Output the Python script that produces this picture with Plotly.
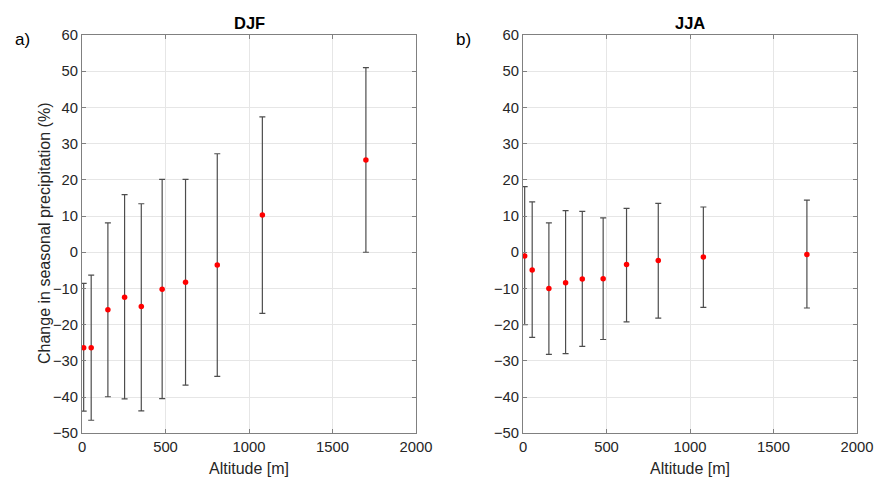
import plotly.graph_objects as go

altitude = [10, 55, 155, 255, 355, 480, 620, 810, 1080, 1700]

djf_mean = [-26.4, -26.4, -15.9, -12.4, -15.0, -10.2, -8.3, -3.5, 10.3, 25.5]
djf_upper = [-8.6, -6.3, 8.1, 15.9, 13.4, 20.1, 20.1, 27.2, 37.4, 51.0]
djf_lower = [-43.9, -46.4, -39.9, -40.5, -43.8, -40.4, -36.7, -34.3, -16.9, 0.0]

jja_mean = [-1.0, -4.9, -10.0, -8.4, -7.4, -7.3, -3.4, -2.3, -1.3, -0.6]
jja_upper = [18.1, 13.9, 8.1, 11.5, 11.3, 9.5, 12.1, 13.5, 12.5, 14.4]
jja_lower = [-20.0, -23.5, -28.2, -28.0, -26.0, -24.1, -19.2, -18.2, -15.2, -15.4]

x_ticks = [0, 500, 1000, 1500, 2000]
y_ticks = [-50, -40, -30, -20, -10, 0, 10, 20, 30, 40, 50, 60]

fig = go.Figure()

def add_panel(mean, upper, lower, xa, ya):
    fig.add_trace(go.Scatter(
        x=altitude, y=mean, mode="markers",
        marker=dict(color="#ff0000", size=5.5),
        error_y=dict(type="data", symmetric=False,
                     array=[u - m for u, m in zip(upper, mean)],
                     arrayminus=[m - l for m, l in zip(mean, lower)],
                     color="#4d4d4d", thickness=1.2, width=3),
        xaxis=xa, yaxis=ya, showlegend=False, cliponaxis=False, hoverinfo="skip"))

add_panel(djf_mean, djf_upper, djf_lower, "x", "y")
add_panel(jja_mean, jja_upper, jja_lower, "x2", "y2")

FAM = "Liberation Sans, Arial, sans-serif"
tickfont = dict(family=FAM, size=14.8, color="#262626")
titlefont = dict(family=FAM, size=16, color="#262626")

W, H = 874, 479
def px(x):
    return x / W
def py(y):
    return 1 - y / H

ydom = [py(433.3), py(35)]

axis_common = dict(showline=True, linecolor="#808080", linewidth=1, mirror="ticks",
                   ticks="inside", ticklen=4, tickcolor="#808080",
                   showgrid=True, gridcolor="#e6e6e6", gridwidth=1, zeroline=False,
                   tickfont=tickfont, automargin=False)

def ann(text, x, y, font, angle=0):
    return dict(text=text, x=px(x), y=py(y), xref="paper", yref="paper",
                xanchor="center", yanchor="middle", textangle=angle,
                showarrow=False, font=font)

bold = dict(family=FAM, size=16.5, color="#000000")
lab = dict(family=FAM, size=17, color="#000000")

fig.update_layout(
    width=W, height=H,
    margin=dict(l=0, r=0, t=0, b=0, autoexpand=False),
    paper_bgcolor="white", plot_bgcolor="white",
    font=tickfont,
    xaxis=dict(domain=[px(82), px(416)], range=[0, 2000], tickvals=x_ticks, anchor="y", **axis_common),
    yaxis=dict(domain=ydom, range=[-50, 60], tickvals=y_ticks, anchor="x", **axis_common),
    xaxis2=dict(domain=[px(523), px(857)], range=[0, 2000], tickvals=x_ticks, anchor="y2", **axis_common),
    yaxis2=dict(domain=ydom, range=[-50, 60], tickvals=y_ticks, anchor="x2", **axis_common),
    annotations=[
        ann("<b>DJF</b>", 249, 23, bold),
        ann("<b>JJA</b>", 690, 23, bold),
        ann("a)", 22, 39, lab),
        ann("b)", 463, 39, lab),
        ann("Altitude [m]", 249, 468, titlefont),
        ann("Altitude [m]", 690, 468, titlefont),
        ann("Change in seasonal precipitation (%)", 44, 234, titlefont, angle=-90),
    ],
)

fig.write_html(
    "out.html",
    config={"displayModeBar": False},
    post_script="document.body.style.margin='0';document.body.style.overflow='hidden';",
)
